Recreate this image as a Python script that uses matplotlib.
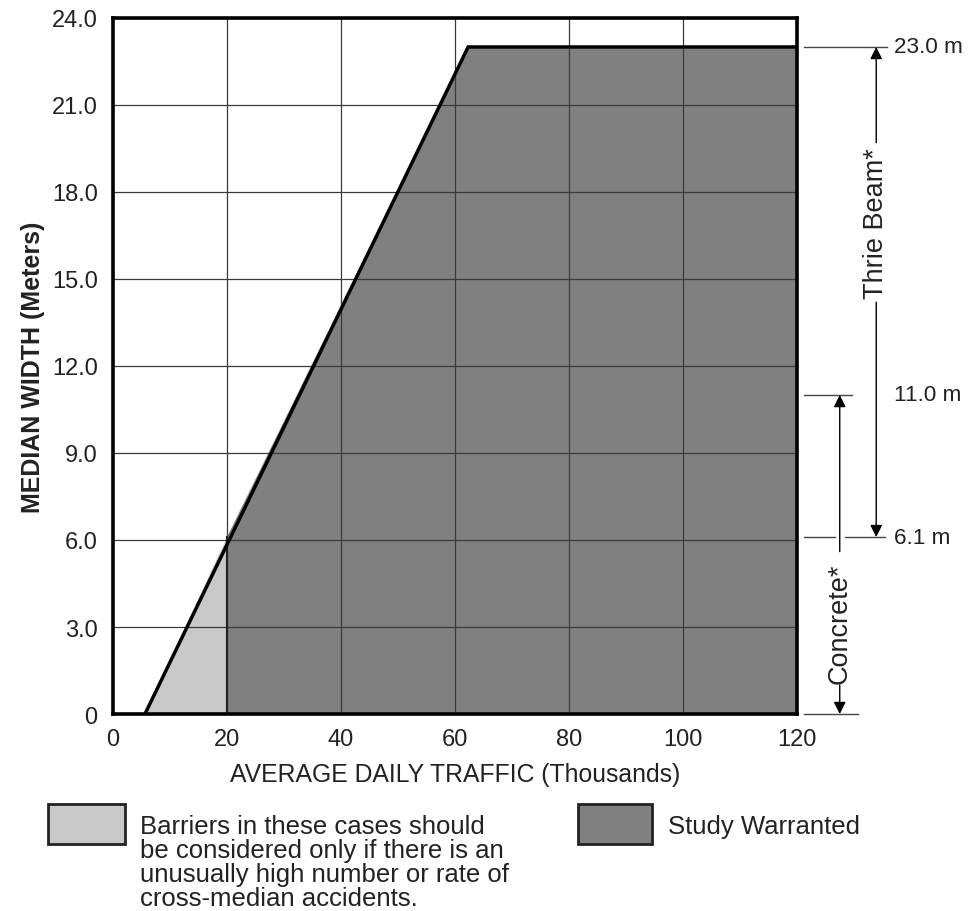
import matplotlib
matplotlib.use('Agg')
import matplotlib.pyplot as plt
from matplotlib.patches import Polygon, Rectangle

# boundary of the warrant region (ADT in thousands, median width in m)
light_x = [5.6, 20.0, 20.0]
light_y = [0.0, 6.1, 0.0]
dark_x = [20.0, 20.0, 62.3, 120.0, 120.0]
dark_y = [0.0, 6.1, 23.0, 23.0, 0.0]
edge_x = [5.6, 62.3, 120.0]
edge_y = [0.0, 23.0, 23.0]

x_ticks = [0, 20, 40, 60, 80, 100, 120]
y_ticks = [0, 3, 6, 9, 12, 15, 18, 21, 24]
y_labels = ['0', '3.0', '6.0', '9.0', '12.0', '15.0', '18.0', '21.0', '24.0']

marks = [23.0, 11.0, 6.1, 0.0]
mark_labels = ['23.0 m', '11.0 m', '6.1 m', '']

note_lines = ['Barriers in these cases should',
              'be considered only if there is an',
              'unusually high number or rate of',
              'cross-median accidents.']

plt.rcParams['font.family'] = 'Liberation Sans'

LIGHT = '#c8c8c8'
DARK = '#808080'

fig = plt.figure(figsize=(9.71, 9.12), dpi=100)
ax = fig.add_axes([0.1164, 0.216, 0.7044, 0.7632])

ax.add_patch(Polygon(list(zip(light_x, light_y)), closed=True, fc=LIGHT, ec='none', zorder=1))
ax.add_patch(Polygon(list(zip(dark_x, dark_y)), closed=True, fc=DARK, ec='none', zorder=1))
ax.plot(edge_x, edge_y, color='black', lw=2.5, zorder=4, solid_joinstyle='miter')
ax.plot([20, 20], [0, 6.1], color='#222222', lw=1.5, zorder=3)

ax.set_xlim(0, 120)
ax.set_ylim(0, 24)
ax.set_xticks(x_ticks)
ax.set_yticks(y_ticks)
ax.set_yticklabels(y_labels)
ax.tick_params(length=0, labelsize=17, colors='#222222')
ax.tick_params(axis='x', pad=10)
ax.tick_params(axis='y', pad=11)
ax.grid(True, color='#3a3a3a', lw=0.9, zorder=2)
ax.set_axisbelow(False)
for s in ax.spines.values():
    s.set_linewidth(2.6)
    s.set_zorder(5)

ax.set_xlabel('AVERAGE DAILY TRAFFIC (Thousands)', fontsize=17.8, labelpad=9, color='#222222')
ax.set_ylabel('MEDIAN WIDTH (Meters)', fontsize=18, weight='bold', labelpad=5, color='#222222')

# side dimension marks
ext = {23.0: 135.8, 11.0: 129.6, 6.1: 135.5, 0.0: 130.7}
for m, lab in zip(marks, mark_labels):
    if m == 6.1:
        ax.plot([121.3, 126.6], [m, m], color='#444444', lw=1, clip_on=False)
        ax.plot([128.4, ext[m]], [m, m], color='#444444', lw=1, clip_on=False)
    else:
        ax.plot([121.3, ext[m]], [m, m], color='#444444', lw=1, clip_on=False)
    if lab:
        ax.text(137.0, m, lab, fontsize=16.2, va='center', ha='left', color='#222222')

arr = dict(arrowstyle='-|>', color='black', lw=1, mutation_scale=18, shrinkA=0, shrinkB=0)
xt = 133.9
ax.annotate('', xy=(xt, 23.0), xytext=(xt, 19.7), arrowprops=arr, annotation_clip=False)
ax.annotate('', xy=(xt, 6.1), xytext=(xt, 14.2), arrowprops=arr, annotation_clip=False)
ax.text(xt, 16.95, 'Thrie Beam*', rotation=90, fontsize=19.5, ha='center', va='center', color='#222222')
xc = 127.5
ax.annotate('', xy=(xc, 11.0), xytext=(xc, 5.6), arrowprops=arr, annotation_clip=False)
ax.annotate('', xy=(xc, 0.0), xytext=(xc, 1.0), arrowprops=arr, annotation_clip=False)
ax.text(xc, 3.15, 'Concrete*', rotation=90, fontsize=19.5, ha='center', va='center', color='#222222')

# legend below
fig.patches.append(Rectangle((48 / 971, 1 - 845 / 912), 77 / 971, 40 / 912, transform=fig.transFigure,
                             fc=LIGHT, ec='#222222', lw=2))
fig.patches.append(Rectangle((578 / 971, 1 - 845 / 912), 74 / 971, 40 / 912, transform=fig.transFigure,
                             fc=DARK, ec='#222222', lw=2))
for i, line in enumerate(note_lines):
    fig.text(140 / 971, 1 - (827 + 24 * i) / 912, line, fontsize=18.5, va='center', ha='left',
             color='#222222')
fig.text(668 / 971, 1 - 827 / 912, 'Study Warranted', fontsize=18.5, va='center', ha='left', color='#222222')

fig.savefig('out.png', dpi=100, facecolor='white')
